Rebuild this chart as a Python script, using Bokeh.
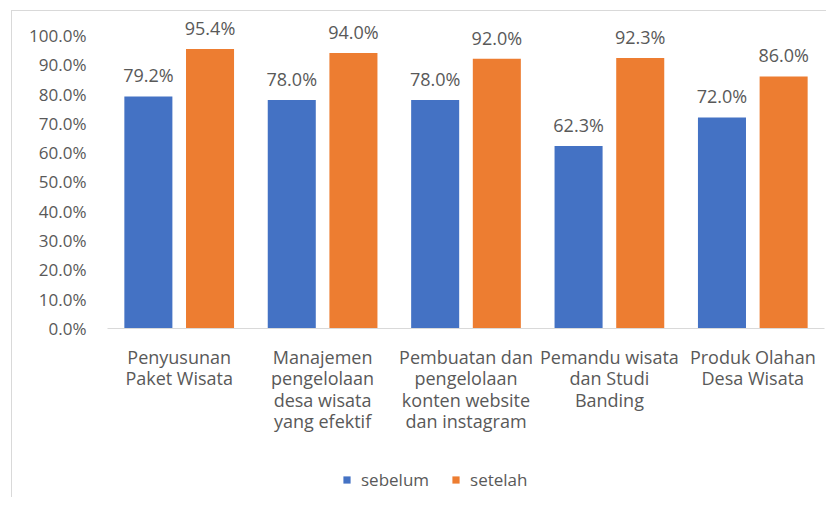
from bokeh.plotting import figure
from bokeh.layouts import column
from bokeh.models import (ColumnDataSource, FactorRange, Range1d, Legend, LegendItem,
                          FixedTicker, PrintfTickFormatter)
from bokeh.transform import dodge
from bokeh.core.properties import value
from bokeh.embed import file_html
from bokeh.resources import INLINE

categories = ["Penyusunan\nPaket Wisata",
              "Manajemen\npengelolaan\ndesa wisata\nyang efektif",
              "Pembuatan dan\npengelolaan\nkonten website\ndan instagram",
              "Pemandu wisata\ndan Studi\nBanding",
              "Produk Olahan\nDesa Wisata"]
sebelum = [79.2, 78.0, 78.0, 62.3, 72.0]
setelah = [95.4, 94.0, 92.0, 92.3, 86.0]
series_names = ["sebelum", "setelah"]
y_ticks = [0, 10, 20, 30, 40, 50, 60, 70, 80, 90, 100]

FONT = "Open Sans"
TXT = "#595959"
BLUE = "#4472C4"
ORANGE = "#ED7D31"
FS = "18px"

src = ColumnDataSource(dict(
    cat=categories,
    sebelum=sebelum,
    setelah=setelah,
    sebelum_lbl=[f"{v:.1f}%" for v in sebelum],
    setelah_lbl=[f"{v:.1f}%" for v in setelah],
))

p = figure(x_range=FactorRange(factors=categories), y_range=Range1d(0, 106.8),
           width=826, height=447, output_backend="svg", toolbar_location=None,
           min_border_left=107, min_border_right=2, min_border_top=15, min_border_bottom=119,
           border_fill_alpha=0)
p.outline_line_color = None
p.grid.grid_line_color = None

for col, off, color in (("sebelum", -0.215, BLUE), ("setelah", 0.215, ORANGE)):
    p.vbar(x=dodge("cat", off, range=p.x_range), top=col, width=0.335,
           source=src, fill_color=color, line_color=None)
    p.text(x=dodge("cat", off, range=p.x_range), y=col, text=col + "_lbl", source=src,
           text_align="center", text_baseline="middle", y_offset=-21,
           text_font=value(FONT), text_font_size=FS, text_color=TXT)

p.yaxis.ticker = FixedTicker(ticks=y_ticks)
p.yaxis.formatter = PrintfTickFormatter(format="%.1f%%")
p.yaxis.axis_line_color = None
p.yaxis.major_tick_line_color = None
p.yaxis.minor_tick_line_color = None
p.yaxis.major_label_standoff = 15
p.yaxis.major_label_text_font = FONT
p.yaxis.major_label_text_font_size = "17px"
p.yaxis.major_label_text_color = TXT

p.xaxis.axis_line_color = "#d9d9d9"
p.xaxis.major_tick_line_color = None
p.xaxis.minor_tick_line_color = None
p.xaxis.major_label_standoff = 10
p.xaxis.major_label_text_font = FONT
p.xaxis.major_label_text_font_size = FS
p.xaxis.major_label_text_color = TXT
p.xaxis.major_label_text_line_height = 0.9

# legend strip (its bars lie below the visible y window, only the legend shows)
pl = figure(width=826, height=50, x_range=FactorRange(factors=categories),
            y_range=Range1d(1000, 1001), x_axis_type=None, y_axis_type=None,
            output_backend="svg", toolbar_location=None, min_border=0,
            border_fill_alpha=0, background_fill_alpha=0)
pl.grid.grid_line_color = None
pl.outline_line_color = None
items = []
for name, color in zip(series_names, (BLUE, ORANGE)):
    rr = pl.vbar(x="cat", top=name, width=0.3, source=src, fill_color=color, line_color=None)
    items.append(LegendItem(label=name, renderers=[rr]))
legend = Legend(items=items, orientation="horizontal", location=(235, 6),
                glyph_width=9, glyph_height=9, label_standoff=10, spacing=22,
                padding=0, margin=0, border_line_color=None, background_fill_alpha=0,
                label_text_font=FONT, label_text_font_size="17px", label_text_color=TXT,
                label_height=20)
pl.add_layout(legend, "center")

layout = column(p, pl, spacing=0,
                styles={"background": "linear-gradient(#d9d9d9,#d9d9d9) 11px 10px / 1px 100% no-repeat, "
                                      "linear-gradient(#d9d9d9,#d9d9d9) 11px 10px / 100% 1px no-repeat"})

open("out.html", "w").write(file_html(layout, INLINE))
